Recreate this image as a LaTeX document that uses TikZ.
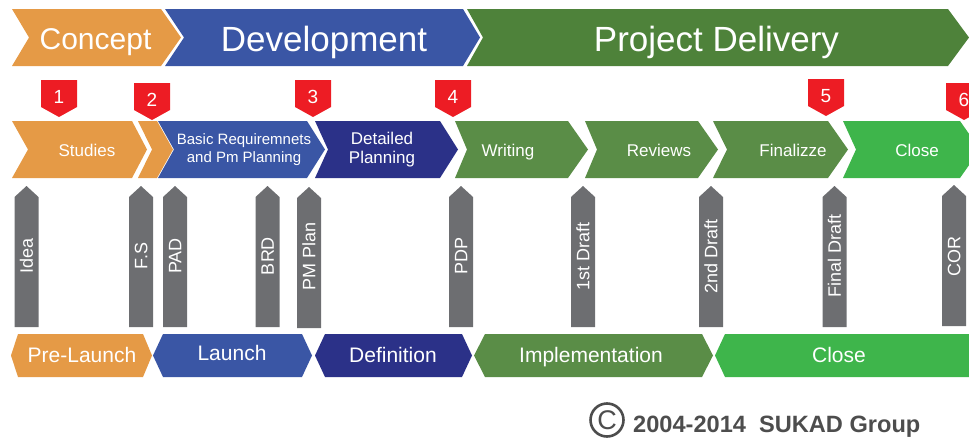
\documentclass[tikz,border=0pt]{standalone}
\usepackage{fontspec}
\setmainfont{Liberation Sans}
\definecolor{orangeC}{HTML}{E59A46}
\definecolor{blueD}{HTML}{3A56A5}
\definecolor{navyD}{HTML}{2B3188}
\definecolor{greenPD}{HTML}{4E823A}
\definecolor{greenM}{HTML}{5A8D47}
\definecolor{greenL}{HTML}{3EB54B}
\definecolor{redM}{HTML}{ED1C24}
\definecolor{greyA}{HTML}{6D6E71}
\definecolor{copyG}{HTML}{4D4D4D}
% chevron: color, xl, notch depth, xr, tip depth, ytop, ybot
\newcommand\chevshape[7]{\fill[#1] (#2,#6) -- (#4,#6) -- ({#4+#5},{(#6+#7)/2}) -- (#4,#7) -- (#2,#7) -- ({#2+#3},{(#6+#7)/2}) -- cycle;}
% hexagon: color, left point, top-left, top-right, right point, ytop, ybot
\newcommand\hexshape[7]{\fill[#1] (#2,{(#6+#7)/2}) -- (#3,#6) -- (#4,#6) -- (#5,{(#6+#7)/2}) -- (#4,#7) -- (#3,#7) -- cycle;}
% red marker: name, cx, ytop, number
\newcommand\redmarker[4]{\fill[redM] ({#2-18},#3) -- ({#2+18},#3) -- ({#2+18},{#3+27}) -- (#2,{#3+37}) -- ({#2-18},{#3+27}) -- cycle;
 \node[marktext] (#1) at (#2,{#3+17}) {#4};}
% grey deliverable arrow: name, cx, ytip, ybot, label
\newcommand\docarrow[5]{\fill[greyA] (#2,#3) -- ({#2+12},{#3+11}) -- ({#2+12},#4) -- ({#2-12},#4) -- ({#2-12},{#3+11}) -- cycle;
 \node[doctext] (#1) at (#2,256) {#5};}
\tikzset{
 basetext/.style={text=white, inner sep=0pt, text depth=0pt},
 toptext/.style={basetext, font=\fontsize{35}{40}\selectfont, text height=25pt},
 midtext/.style={basetext, font=\fontsize{17}{20}\selectfont, text height=12.2pt},
 smalltext/.style={basetext, font=\fontsize{15}{18}\selectfont, text height=10.7pt},
 bottext/.style={basetext, font=\fontsize{21}{25}\selectfont, text height=15pt},
 marktext/.style={basetext, font=\fontsize{19}{22}\selectfont, text height=13.6pt},
 doctext/.style={basetext, rotate=90, font=\fontsize{18}{21}\selectfont, text height=12.9pt},
}
\begin{document}
\begin{tikzpicture}[x=1pt,y=-1pt]
\useasboundingbox (0,0) rectangle (969,439);
\clip (0,0) rectangle (969,439);
% top row
\chevshape{orangeC}{12}{17}{161}{20}{9}{66}
\chevshape{blueD}{165}{19}{463}{17}{9}{66}
\chevshape{greenPD}{467}{16}{948}{21}{9}{66}
\node[toptext, font=\fontsize{30}{36}\selectfont, text height=21.5pt] (concept) at (95.5,39) {Concept};
\node[toptext] (develop) at (324,39) {Development};
\node[toptext] (delivery) at (716.5,39) {Project Delivery};
% markers
\redmarker{m1}{59}{80}{1}
\redmarker{m2}{152}{83}{2}
\redmarker{m3}{313}{80}{3}
\redmarker{m4}{453}{80}{4}
\redmarker{m5}{826}{79}{5}
\redmarker{m6}{964}{83}{6}
% middle row
\chevshape{orangeC}{12}{16}{132}{15}{121}{178}
\chevshape{orangeC}{138}{14}{157}{16}{121}{178}
\chevshape{blueD}{158}{16}{307}{18}{121}{178}
\chevshape{navyD}{315}{13}{440}{18}{121}{178}
\chevshape{greenM}{455}{12}{568}{20}{121}{178}
\chevshape{greenM}{585}{12}{698}{20}{121}{178}
\chevshape{greenM}{713}{14}{828}{20}{121}{178}
\chevshape{greenL}{843}{13}{960}{20}{121}{178}
\node[midtext] (studies) at (87,150) {Studies};
\node[smalltext] (basic1) at (244,139) {Basic Requiremnets};
\node[smalltext] (basic2) at (244,157) {and Pm Planning};
\node[midtext] (det1) at (382,138.5) {Detailed};
\node[midtext] (det2) at (382,157.5) {Planning};
\node[midtext] (writing) at (508,150) {Writing};
\node[midtext] (reviews) at (659,150) {Reviews};
\node[midtext] (finalize) at (793,150) {Finalizze};
\node[midtext] (close1) at (917,150) {Close};
% grey arrows
\docarrow{idea}{26.5}{186}{327}{Idea}
\docarrow{fs}{141}{186}{327}{F.S}
\docarrow{pad}{175}{186}{327}{PAD}
\docarrow{brd}{267.5}{186}{327}{BRD}
\docarrow{pmplan}{309}{187}{328}{PM Plan}
\docarrow{pdp}{461}{186}{327}{PDP}
\docarrow{draft1}{583}{186}{327}{1st Draft}
\docarrow{draft2}{711}{186}{327}{2nd Draft}
\docarrow{draftf}{834.5}{186}{327}{Final Draft}
\docarrow{cor}{954}{185}{326}{COR}
% bottom row
\hexshape{orangeC}{11}{18}{143}{152}{334}{377}
\hexshape{blueD}{153}{163}{302}{312}{334}{377}
\hexshape{navyD}{315}{325}{462}{472}{334}{377}
\hexshape{greenM}{474}{485}{702}{713}{334}{377}
\hexshape{greenL}{715}{725}{990}{1000}{334}{377}
\node[bottext] (prelaunch) at (82,355) {Pre-Launch};
\node[bottext] (launch) at (232,353) {Launch};
\node[bottext] (definition) at (393,355) {Definition};
\node[bottext] (implement) at (591,355) {Implementation};
\node[bottext] (close2) at (839,355) {Close};
% copyright
\node[draw=copyG, line width=2.6pt, circle, minimum size=33pt, inner sep=0pt, text=copyG, font=\fontsize{27}{30}\selectfont] (copysign) at (607,420) {C};
\node[anchor=base west, inner sep=0pt, text=copyG, font=\fontsize{23.6}{27}\selectfont\bfseries] (copytext) at (633,432) {2004-2014\ \ SUKAD Group};
\end{tikzpicture}
\end{document}
